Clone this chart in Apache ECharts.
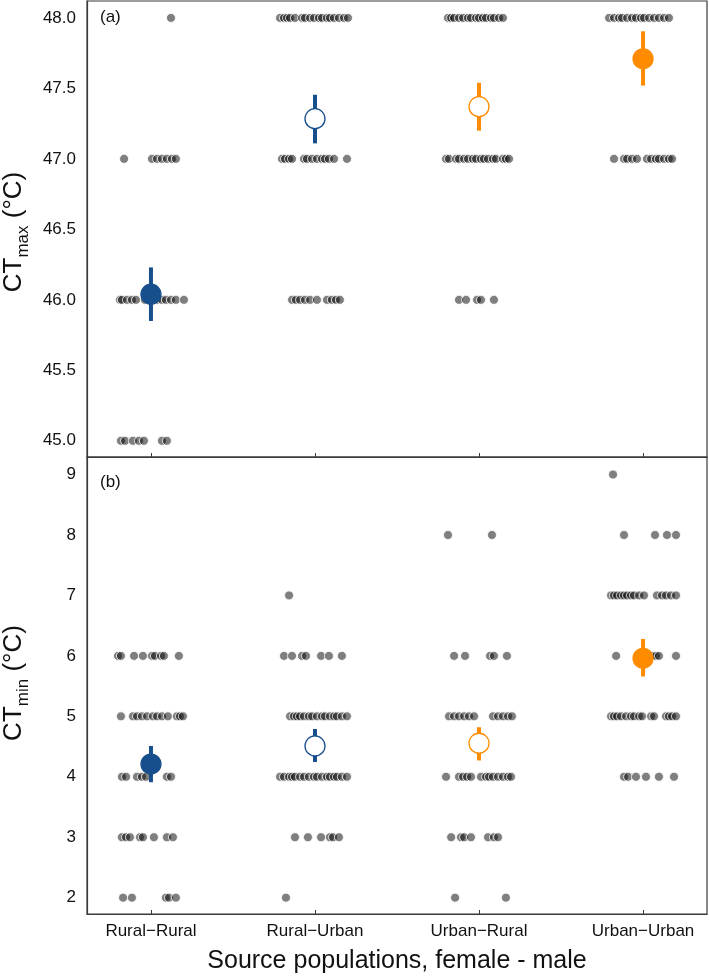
<!DOCTYPE html>
<html>
<head>
<meta charset="utf-8">
<script src="https://cdn.jsdelivr.net/npm/echarts@6/dist/echarts.min.js"></script>
<style>html,body{margin:0;padding:0;background:#fff}#c{width:709px;height:979px}</style>
</head>
<body>
<div id="c"></div>
<script>
// ---- data ----
const categories = ['Rural\u2212Rural', 'Rural\u2212Urban', 'Urban\u2212Rural', 'Urban\u2212Urban'];
const ctmaxTicks = [45.0, 45.5, 46.0, 46.5, 47.0, 47.5, 48.0];
const ctminTicks = [2, 3, 4, 5, 6, 7, 8, 9];

// individual points: [value, horizontal jitter offsets (category units)]
const ctmaxRuralRural = [
  [48, [0.122]],
  [47, [-0.164, 0.006, 0.037, 0.067, 0.097, 0.128, 0.152]],
  [46, [-0.189, -0.177, -0.146, -0.116, -0.091, -0.037, -0.006, 0.037, 0.067, 0.091, 0.122, 0.152, 0.201]],
  [45, [-0.183, -0.158, -0.110, -0.073, -0.043, 0.067, 0.097]]
];
const ctmaxRuralUrban = [
  [48, [-0.213, -0.189, -0.170, -0.152, -0.122, -0.079, -0.061, -0.030, -0.006, 0.024, 0.043, 0.073, 0.091, 0.116, 0.146, 0.177, 0.201]],
  [47, [-0.201, -0.183, -0.158, -0.140, -0.067, -0.049, -0.018, 0.012, 0.043, 0.061, 0.085, 0.116, 0.195]],
  [46, [-0.140, -0.116, -0.091, -0.061, -0.030, 0.012, 0.073, 0.103, 0.128, 0.152]]
];
const ctmaxUrbanRural = [
  [48, [-0.189, -0.170, -0.152, -0.122, -0.097, -0.067, -0.049, -0.018, 0, 0.024, 0.043, 0.073, 0.091, 0.122, 0.146]],
  [47, [-0.201, -0.183, -0.140, -0.122, -0.091, -0.067, -0.037, -0.018, 0.012, 0.030, 0.055, 0.085, 0.103, 0.146, 0.164, 0.183]],
  [46, [-0.122, -0.079, -0.012, 0.012, 0.091]]
];
const ctmaxUrbanUrban = [
  [48, [-0.207, -0.177, -0.146, -0.128, -0.097, -0.067, -0.043, -0.012, 0.006, 0.037, 0.067, 0.097, 0.128, 0.158]],
  [47, [-0.177, -0.116, -0.097, -0.067, -0.037, 0.024, 0.049, 0.079, 0.097, 0.128, 0.158, 0.177]]
];

const ctminRuralRural = [
  [6, [-0.201, -0.183, -0.103, -0.049, 0.006, 0.024, 0.061, 0.079, 0.170]],
  [5, [-0.183, -0.110, -0.085, -0.055, -0.024, 0.012, 0.037, 0.067, 0.103, 0.158, 0.177, 0.195]],
  [4, [-0.177, -0.152, -0.085, -0.055, -0.030, 0.097, 0.122]],
  [3, [-0.177, -0.152, -0.128, -0.067, -0.049, 0.018, 0.097, 0.134]],
  [2, [-0.170, -0.116, 0.091, 0.110, 0.152]]
];
const ctminRuralUrban = [
  [7, [-0.158]],
  [6, [-0.189, -0.140, -0.079, -0.055, 0.037, 0.085, 0.164]],
  [5, [-0.152, -0.128, -0.110, -0.091, -0.067, -0.037, -0.018, 0.012, 0.043, 0.061, 0.091, 0.116, 0.134, 0.164, 0.195]],
  [4, [-0.213, -0.189, -0.158, -0.140, -0.122, -0.091, -0.067, -0.037, -0.006, 0.012, 0.043, 0.073, 0.091, 0.116, 0.134, 0.164, 0.195]],
  [3, [-0.122, -0.043, 0.037, 0.091, 0.110, 0.146]],
  [2, [-0.177]]
];
const ctminUrbanRural = [
  [8, [-0.189, 0.079]],
  [6, [-0.152, -0.085, 0.067, 0.091, 0.170]],
  [5, [-0.183, -0.152, -0.122, -0.091, -0.061, -0.030, 0.085, 0.116, 0.146, 0.177, 0.201]],
  [4, [-0.201, -0.122, -0.097, -0.073, -0.049, 0.012, 0.043, 0.061, 0.085, 0.116, 0.146, 0.177, 0.195]],
  [3, [-0.170, -0.110, -0.091, -0.049, 0.055, 0.091, 0.116]],
  [2, [-0.146, 0.164]]
];
const ctminUrbanUrban = [
  [9, [-0.183]],
  [8, [-0.116, 0.073, 0.146, 0.201]],
  [7, [-0.195, -0.177, -0.158, -0.134, -0.116, -0.097, -0.073, -0.055, -0.024, 0.006, 0.085, 0.116, 0.140, 0.170, 0.201]],
  [6, [-0.164, -0.018, 0.012, 0.055, 0.079, 0.097, 0.201]],
  [5, [-0.195, -0.177, -0.158, -0.134, -0.103, -0.073, -0.055, -0.024, -0.006, 0.049, 0.067, 0.140, 0.158, 0.177, 0.201]],
  [4, [-0.116, -0.091, -0.043, 0.018, 0.097, 0.189]]
];

// group means and intervals
const ctmaxMean = [46.04, 47.285, 47.37, 47.71];
const ctmaxLow  = [45.85, 47.11, 47.20, 47.52];
const ctmaxHigh = [46.23, 47.455, 47.54, 47.905];
const ctminMean = [4.21, 4.51, 4.555, 5.96];
const ctminLow  = [3.91, 4.245, 4.27, 5.66];
const ctminHigh = [4.51, 4.79, 4.82, 6.28];
const meanFilled = [true, false, false, true];

// ---- style ----
const BLUE = '#174f8d';
const ORANGE = '#ff8c00';
const meanColor = [BLUE, BLUE, ORANGE, ORANGE];
const FONT = '"Liberation Sans", Arial, Helvetica, sans-serif';
const AXIS = '#3a3a3a';

function points(groups) {
  const out = [];
  groups.forEach(function (rows, i) {
    rows.forEach(function (row) {
      row[1].forEach(function (j) { out.push([i + 1 + j, row[0]]); });
    });
  });
  return out;
}
function meanData(mean) {
  return mean.map(function (m, i) {
    return {
      value: [i + 1, m],
      itemStyle: { color: meanFilled[i] ? meanColor[i] : '#ffffff', borderColor: meanColor[i], borderWidth: 1.3, opacity: 1 }
    };
  });
}
function barData(lo, hi) {
  return lo.map(function (l, i) {
    return { value: [i + 1, l, hi[i]], itemStyle: { color: meanColor[i] } };
  });
}
function renderBar(params, api) {
  const a = api.coord([api.value(0), api.value(1)]);
  const b = api.coord([api.value(0), api.value(2)]);
  return { type: 'line', shape: { x1: a[0], y1: a[1], x2: b[0], y2: b[1] },
           style: { stroke: api.visual('color'), lineWidth: 4, opacity: 1 } };
}

const pointStyle = { color: 'rgba(0,0,0,0.5)', borderColor: '#ffffff', borderWidth: 0.8, opacity: 1 };

function xAxis(idx, labels) {
  return {
    type: 'value', gridIndex: idx, min: 0.61, max: 4.39,
    axisLine: { show: true, lineStyle: { color: AXIS, width: 1.2 } },
    axisTick: { show: true, inside: true, length: 4, customValues: [1, 2, 3, 4], lineStyle: { color: AXIS } },
    axisLabel: { show: labels, customValues: [1, 2, 3, 4], margin: 9,
      formatter: function (v) { return categories[Math.round(v) - 1] || ''; },
      fontFamily: FONT, fontSize: 17, color: '#111' },
    splitLine: { show: false }
  };
}
function yAxis(idx, min, max, ticks, digits) {
  return {
    type: 'value', gridIndex: idx, min: min, max: max,
    axisLine: { show: true, lineStyle: { color: AXIS, width: 1.2 } },
    axisTick: { show: false },
    axisLabel: { customValues: ticks, margin: 11,
      formatter: function (v) { return v.toFixed(digits); },
      fontFamily: FONT, fontSize: 17, color: '#111' },
    splitLine: { show: false }
  };
}

const titleRich = {
  m: { fontFamily: FONT, fontSize: 26, lineHeight: 36, verticalAlign: 'middle', fill: '#111', color: '#111' },
  s: { fontFamily: FONT, fontSize: 17, lineHeight: 17, verticalAlign: 'bottom', fill: '#111', color: '#111' }
};

const chart = echarts.init(document.getElementById('c'), null, { renderer: 'canvas' });
chart.setOption({
  animation: false,
  backgroundColor: '#ffffff',
  grid: [
    { left: 87, right: 2, top: 1, height: 456, show: true, borderColor: AXIS, borderWidth: 1.2, containLabel: false },
    { left: 87, right: 2, top: 457, height: 457, show: true, borderColor: AXIS, borderWidth: 1.2, containLabel: false }
  ],
  xAxis: [xAxis(0, false), xAxis(1, true)],
  yAxis: [yAxis(0, 44.885, 48.12, ctmaxTicks, 1), yAxis(1, 1.73, 9.29, ctminTicks, 0)],
  graphic: [
    { type: 'text', left: 100, top: 9, style: { text: '(a)', font: '17px ' + FONT, fill: '#111' } },
    { type: 'text', left: 100, top: 474, style: { text: '(b)', font: '17px ' + FONT, fill: '#111' } },
    { type: 'text', x: 14, y: 232, rotation: Math.PI / 2,
      style: { text: '{m|CT}{s|max}{m| (°C)}', rich: titleRich, align: 'center', verticalAlign: 'middle' } },
    { type: 'text', x: 14, y: 683, rotation: Math.PI / 2,
      style: { text: '{m|CT}{s|min}{m| (°C)}', rich: titleRich, align: 'center', verticalAlign: 'middle' } },
    { type: 'text', x: 397, y: 961,
      style: { text: 'Source populations, female - male', font: '25px ' + FONT, fill: '#111', align: 'center', verticalAlign: 'middle' } }
  ],
  series: [
    { type: 'scatter', xAxisIndex: 0, yAxisIndex: 0, symbolSize: 9, itemStyle: pointStyle, z: 2,
      data: points([ctmaxRuralRural, ctmaxRuralUrban, ctmaxUrbanRural, ctmaxUrbanUrban]) },
    { type: 'scatter', xAxisIndex: 1, yAxisIndex: 1, symbolSize: 9, itemStyle: pointStyle, z: 2,
      data: points([ctminRuralRural, ctminRuralUrban, ctminUrbanRural, ctminUrbanUrban]) },
    { type: 'custom', xAxisIndex: 0, yAxisIndex: 0, renderItem: renderBar, z: 3, data: barData(ctmaxLow, ctmaxHigh) },
    { type: 'custom', xAxisIndex: 1, yAxisIndex: 1, renderItem: renderBar, z: 3, data: barData(ctminLow, ctminHigh) },
    { type: 'scatter', xAxisIndex: 0, yAxisIndex: 0, symbolSize: 20, z: 4, data: meanData(ctmaxMean) },
    { type: 'scatter', xAxisIndex: 1, yAxisIndex: 1, symbolSize: 20, z: 4, data: meanData(ctminMean) }
  ]
});
</script>
</body>
</html>
